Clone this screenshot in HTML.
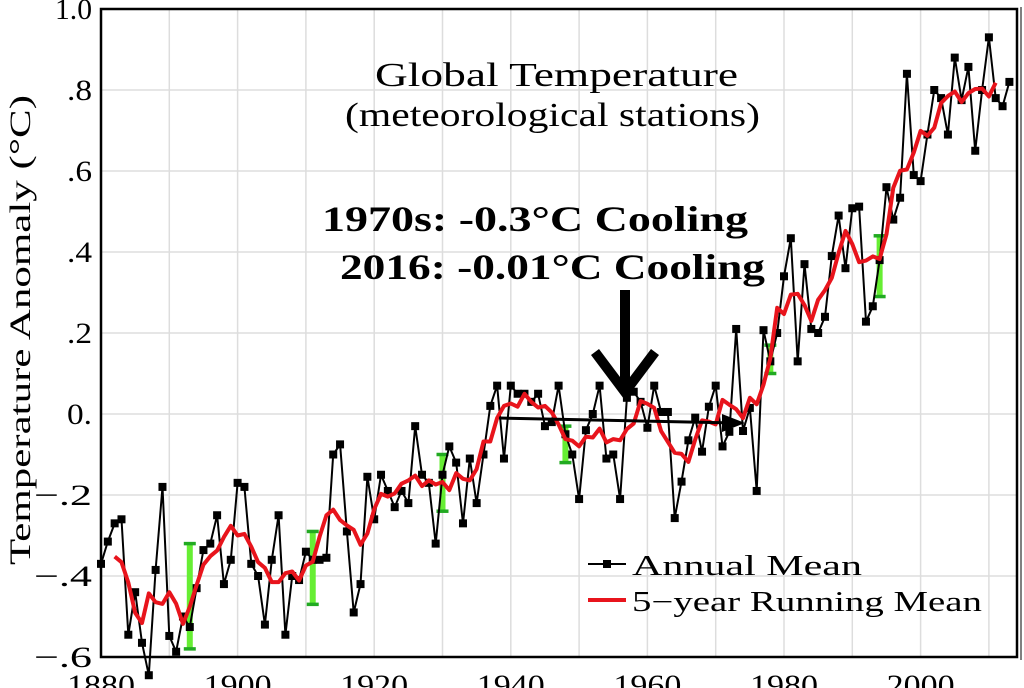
<!DOCTYPE html>
<html><head><meta charset="utf-8"><style>
html,body{margin:0;padding:0;background:#fff;}
svg{display:block;font-family:"Liberation Serif",serif;}
</style></head><body>
<svg id="s" width="1024" height="688" viewBox="0 0 1024 688" xmlns="http://www.w3.org/2000/svg"></svg>
<script>
const d=[-0.37,-0.315,-0.27,-0.26,-0.545,-0.44,-0.565,-0.645,-0.385,-0.18,-0.548,-0.587,-0.50,-0.526,-0.43,-0.336,-0.32,-0.25,-0.42,-0.36,-0.17,-0.18,-0.37,-0.40,-0.52,-0.36,-0.25,-0.545,-0.40,-0.41,-0.34,-0.36,-0.36,-0.355,-0.10,-0.075,-0.29,-0.49,-0.42,-0.155,-0.26,-0.15,-0.19,-0.23,-0.19,-0.22,-0.03,-0.15,-0.17,-0.32,-0.15,-0.08,-0.12,-0.27,-0.11,-0.22,-0.10,0.02,0.07,-0.11,0.07,0.05,0.05,0.03,0.05,-0.03,-0.02,0.07,-0.05,-0.10,-0.21,-0.04,0.0,0.07,-0.11,-0.10,-0.21,0.04,0.055,0.03,-0.034,0.07,0.005,0.005,-0.257,-0.167,-0.065,-0.009,-0.093,0.018,0.07,-0.08,-0.044,0.21,-0.042,0.015,-0.19,0.207,0.13,0.2,0.34,0.434,0.13,0.37,0.21,0.20,0.24,0.39,0.49,0.36,0.508,0.512,0.228,0.266,0.38,0.56,0.48,0.534,0.84,0.59,0.575,0.69,0.80,0.78,0.69,0.88,0.775,0.857,0.65,0.80,0.93,0.78,0.76,0.82];
const X=y=>101+(y-1880)*6.83, Y=v=>414-v*405;
let h='';
for(let yr=1890;yr<=2010;yr+=10)h+=`<line x1="${X(yr)}" y1="9" x2="${X(yr)}" y2="657" stroke="#ddd" stroke-width="1.5"/>`;
for(let v=-0.4;v<0.95;v+=0.2)h+=`<line x1="101" y1="${Y(v)}" x2="1017" y2="${Y(v)}" stroke="#ddd" stroke-width="1.5"/>`;
[[1893,-0.32,-0.58],[1911,-0.29,-0.47],[1930,-0.10,-0.24],[1948,-0.03,-0.12],[1978,0.17,0.10],[1994,0.44,0.29]].forEach(([yr,a,b])=>{const x=X(yr);
h+=`<line x1="${x}" y1="${Y(a)}" x2="${x}" y2="${Y(b)}" stroke="#66ee33" stroke-width="6"/><line x1="${x-6}" y1="${Y(a)}" x2="${x+6}" y2="${Y(a)}" stroke="#22aa22" stroke-width="3.5"/><line x1="${x-6}" y1="${Y(b)}" x2="${x+6}" y2="${Y(b)}" stroke="#22aa22" stroke-width="3.5"/>`;});
let p=d.map((v,i)=>X(1880+i).toFixed(1)+','+Y(v).toFixed(1)).join(' ');
h+=`<polyline points="${p}" fill="none" stroke="#000" stroke-width="2"/>`;
d.forEach((v,i)=>{h+=`<rect x="${X(1880+i)-4}" y="${Y(v)-4}" width="8" height="8" fill="#000"/>`;});
let r=[];for(let i=2;i<d.length-2;i++){let s=0;for(let k=-2;k<=2;k++)s+=d[i+k];r.push(X(1880+i).toFixed(1)+','+Y(s/5).toFixed(1));}
h+=`<polyline points="${r.join(' ')}" fill="none" stroke="#e8141c" stroke-width="4" stroke-linejoin="round"/>`;
h+=`<line x1="499" y1="418" x2="735" y2="423" stroke="#000" stroke-width="3"/><polygon points="745,423 722,414 722,432" fill="#000"/>`;
h+=`<line x1="625" y1="290" x2="625" y2="385" stroke="#000" stroke-width="10"/><polyline points="595,352 625,392 655,352" fill="none" stroke="#000" stroke-width="10"/>`;
h+=`<rect x="101" y="9" width="916" height="648" fill="none" stroke="#000" stroke-width="2.5"/><line x1="1021" y1="7" x2="1021" y2="660" stroke="#000" stroke-width="1"/>`;
const yl=[[1.0,'1.0',37],[0.8,'.8',25],[0.6,'.6',25],[0.4,'.4',25],[0.2,'.2',25],[0,'0.',25],[-0.2,'\u2212.2',58],[-0.4,'\u2212.4',58],[-0.6,'\u2212.6',58]];
yl.forEach(([v,t,w])=>{h+=`<text x="${92-w}" y="${Y(v)+10}" font-size="30" textLength="${w}" lengthAdjust="spacingAndGlyphs">${t}</text>`;});
for(let yr=1880;yr<=2000;yr+=20)h+=`<text x="${X(yr)-34}" y="695" font-size="30" textLength="68" lengthAdjust="spacingAndGlyphs">${yr}</text>`;
h+=`<text transform="translate(30,330) rotate(-90)" font-size="30" text-anchor="middle" textLength="470" lengthAdjust="spacingAndGlyphs">Temperature Anomaly (°C)</text>`;
h+=`<text x="375" y="86" font-size="34" textLength="363" lengthAdjust="spacingAndGlyphs">Global Temperature</text><text x="345" y="126" font-size="34" textLength="415" lengthAdjust="spacingAndGlyphs">(meteorological stations)</text>`;
h+=`<text x="322" y="231" font-size="36" font-weight="bold" textLength="426" lengthAdjust="spacingAndGlyphs">1970s:  -0.3°C Cooling</text>`;
h+=`<text x="340" y="279" font-size="36" font-weight="bold" textLength="425" lengthAdjust="spacingAndGlyphs">2016:  -0.01°C Cooling</text>`;
h+=`<line x1="588" y1="564" x2="626" y2="564" stroke="#000" stroke-width="2"/><rect x="603" y="560" width="8" height="8"/><text x="632" y="575" font-size="28" textLength="230" lengthAdjust="spacingAndGlyphs">Annual Mean</text>`;
h+=`<line x1="588" y1="600" x2="626" y2="600" stroke="#e8141c" stroke-width="4"/><text x="632" y="611" font-size="28" textLength="350" lengthAdjust="spacingAndGlyphs">5\u2212year Running Mean</text>`;
document.getElementById('s').innerHTML=h;
</script>
</body></html>
